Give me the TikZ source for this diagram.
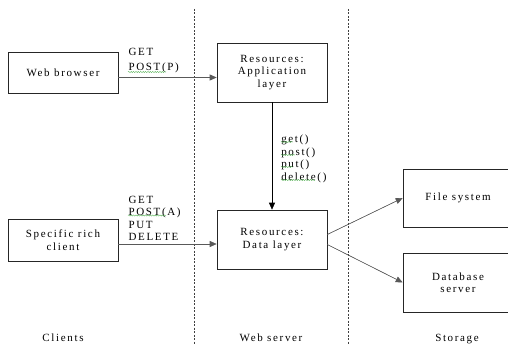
\documentclass[tikz,border=0pt]{standalone}
\usepackage{fontspec}
\setmainfont{Liberation Serif}[LetterSpace=15]
\usepackage{xcolor}
\usetikzlibrary{arrows.meta,decorations.pathmorphing}
\definecolor{spellgreen}{RGB}{90,180,90}

\begin{document}
\begin{tikzpicture}[
  x=1pt, y=-1pt,
  font=\fontsize{11}{12.5}\selectfont,
  box/.style={draw=black!85, line width=0.6pt, align=center, minimum width=110pt, inner sep=2pt},
  tier/.style={draw=black!75, dashed, dash pattern=on 2pt off 1.5pt, line width=0.5pt},
  arr/.style={-{Triangle[length=7pt,width=6pt]}, line width=0.6pt},
  conn/.style={arr, draw=black!65, fill=black},
  calls/.style={align=left, inner sep=0pt},
  squig/.style={draw=spellgreen, line width=0.4pt, decorate, decoration={snake, amplitude=0.6pt, segment length=2.4pt}},
  caption/.style={anchor=base}
]
  \useasboundingbox (0,0) rectangle (508,345);
  \clip (0,0) rectangle (508,345);

  % tier separators
  \draw[tier] (194,9) -- (194,345);
  \draw[tier] (348,9) -- (348,345);

  % clients
  \node[box, minimum height=41pt] (browser) at (63,72.5) {Web browser};
  \node[box, minimum height=42pt] (richclient) at (63,240) {Specific rich\\client};

  % web server
  \node[box, minimum height=59pt] (applayer) at (272,72.5) {Resources:\\Application\\layer};
  \node[box, minimum height=59pt] (datalayer) at (272,239.5) {Resources:\\Data layer};

  % storage
  \node[box, minimum height=58pt] (filesys) at (458,198) {File system};
  \node[box, minimum height=59pt] (dbserver) at (458,282.5) {Database\\server};

  % tier captions
  \node[caption] (clients) at (63,341) {Clients};
  \node[caption] (webserver) at (271,341) {Web server};
  \node[caption] (storage) at (457,341) {Storage};

  % requests
  \coordinate (webout) at ([yshift=-5pt]browser.east);
  \coordinate (richout) at ([yshift=-4pt]richclient.east);
  \draw[conn] (webout) -- node[calls, pos=0, anchor=south west, xshift=10pt, yshift=4.5pt] (webcalls) {GET\\[2pt]POST(P)} (webout -| applayer.west);
  \draw[conn] (richout) -- node[calls, pos=0, anchor=south west, xshift=10pt, yshift=3pt] (richcalls) {GET\\POST(A)\\PUT\\DELETE} (richout -| datalayer.west);
  \draw[arr] (applayer) -- node[calls, right, xshift=9pt, yshift=-3pt] (methods) {get()\\post()\\put()\\delete()} (datalayer);
  \draw[conn] ([yshift=5pt]datalayer.east) -- (filesys.west);
  \draw[conn] ([yshift=-5pt]datalayer.east) -- (dbserver.west);

  % spell-check marks
  \draw[squig] (128,72) -- (166,72);
  \draw[squig] (128,215.5) -- (166,215.5);
  \draw[squig] (281,142) -- (293,142);
  \draw[squig] (281,155) -- (295,155);
  \draw[squig] (281,167) -- (293,167);
  \draw[squig] (281,180) -- (315,180);
\end{tikzpicture}
\end{document}
